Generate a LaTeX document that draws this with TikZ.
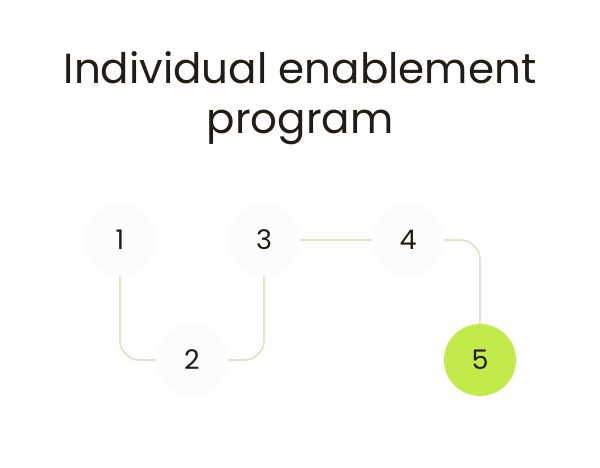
\documentclass[tikz,border=0pt]{standalone}
\usepackage{fontspec}
\setmainfont{Poppins}
\definecolor{ink}{RGB}{34,28,22}
\definecolor{beige}{RGB}{234,226,206}
\begin{document}
\begin{tikzpicture}[x=1pt,y=-1pt,
 step circ/.style={circle,minimum size=72pt,inner sep=0pt,fill=black!1.2,font=\fontsize{27}{30}\selectfont,text=ink},
 conn/.style={draw=beige,line width=2pt,rounded corners=20pt}]
\useasboundingbox[fill=white] (0,0) rectangle (600,468);
\node[align=center,font=\fontsize{42}{50}\selectfont,text=ink] (t) at (300,98) {Individual enablement\\program};
\node[step circ] (n1) at (120,240) {1};
\node[step circ] (n2) at (192,360) {2};
\node[step circ] (n3) at (264,240) {3};
\node[step circ] (n4) at (408,240) {4};
\node[step circ,fill={rgb,255:red,194;green,234;blue,72}] (n5) at (480,360) {5};
\draw[conn] (n1.south) |- (n2.west);
\draw[conn] (n2.east) -| (n3.south);
\draw[conn] (n3.east) -- (n4.west);
\draw[conn] (n4.east) -| (n5.north);
\end{tikzpicture}
\end{document}
